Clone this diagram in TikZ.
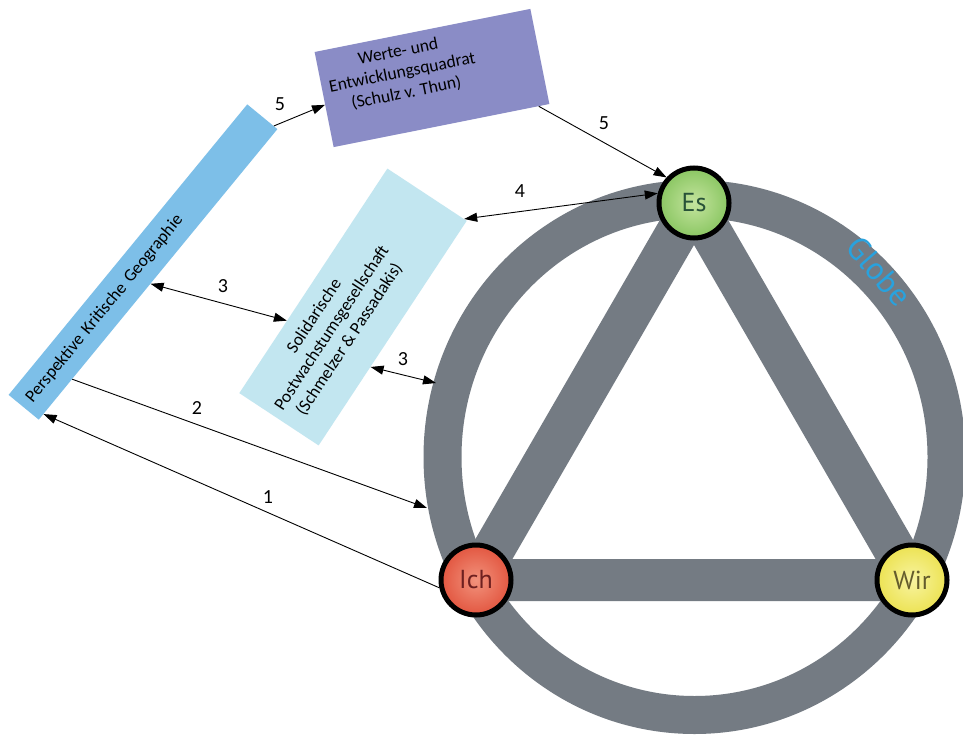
\documentclass[tikz,border=0pt]{standalone}
\usepackage{fontspec}
\setmainfont{Carlito}
\newfontfamily\nodefont{PT Sans}
\usetikzlibrary{arrows.meta,calc}
\definecolor{ringgray}{RGB}{116,123,131}
\definecolor{boxblue}{RGB}{125,191,232}
\definecolor{boxpurple}{RGB}{138,140,198}
\definecolor{boxcyan}{RGB}{194,230,240}
\definecolor{globeblue}{RGB}{40,162,222}
\begin{document}
\begin{tikzpicture}[x=1pt,y=-1pt,
  conn/.style={line width=0.9pt, draw=black},
  onehead/.style={-{Triangle[length=13pt,width=9pt]}},
  twohead/.style={{Triangle[length=13pt,width=9pt]}-{Triangle[length=13pt,width=9pt]}},
  num/.style={font=\fontsize{20}{22}\selectfont, inner sep=0pt},
  vertex/.style={circle, draw=black, line width=5pt, minimum size=70pt, inner sep=0pt,
                 font=\nodefont\fontsize{26}{28}\selectfont},
  boxtext/.style={font=\fontsize{17.5}{21}\selectfont, align=center, inner sep=0pt},
  panel/.style={inner sep=0pt}
]
\useasboundingbox (0,0) rectangle (963,735);
\clip (0,0) rectangle (963,735);
\fill[white] (0,0) rectangle (963,735);

% vertex centres
\coordinate (pes) at (694,203);
\coordinate (pich) at (476,580);
\coordinate (pwir) at (912,580);

% ring and triangle
\draw[ringgray, line width=38pt] (694.5,457) ellipse [x radius=252pt, y radius=258pt];
\draw[ringgray, line width=42pt, line join=round] (pes) -- (pich) -- (pwir) -- cycle;

\node[font=\nodefont\fontsize{32}{34}\selectfont, text=globeblue, rotate=-49, inner sep=0pt] (globe) at (879,271) {Globe};

% vertices
\node[vertex, inner color={rgb,255:red,196;green,228;blue,158}, outer color={rgb,255:red,138;green,198;blue,98}, text={rgb,255:red,40;green,82;blue,56}] (es) at (pes) {Es};
\node[vertex, inner color={rgb,255:red,242;green,146;blue,124}, outer color={rgb,255:red,226;green,86;blue,64}, text={rgb,255:red,110;green,32;blue,32}] (ich) at (pich) {Ich};
\node[vertex, inner color={rgb,255:red,248;green,244;blue,160}, outer color={rgb,255:red,236;green,226;blue,82}, text={rgb,255:red,100;green,92;blue,44}] (wir) at (pwir) {Wir};

% boxes
\node[panel, fill=boxblue, rotate=50.6, minimum height=39pt, text width=358pt, inner xsep=9pt,
      align=left, font=\fontsize{17.5}{21}\selectfont] (kg) at (143,262) {Perspektive Kritische Geographie};

\node[panel, fill=boxpurple, rotate=11.3, minimum width=220pt, minimum height=97pt] (wq) at (432,78) {};
\node[boxtext, rotate=11.3] (wqt) at (402.3,72.7) {Werte- und\\Entwicklungsquadrat\\(Schulz v. Thun)};

\node[panel, fill=boxcyan, rotate=56.6, minimum width=269pt, minimum height=95pt] (sp) at (353,307) {};
\node[boxtext, rotate=56.6] (spt) at (332,328) {Solidarische\\Postwachstumsgesellschaft\\(Schmelzer \& Passadakis)};

% ring contact points
\coordinate (r3) at (436,383);
\coordinate (r2) at (427,508);

% connectors
\draw[conn, onehead] ($(kg.east)!0.75!(kg.south east)$) -- ($(wq.west)!0.11!(wq.south west)$);
\draw[conn, onehead] ($(wq.south)!0.9!(wq.south east)$) -- (es.137);
\draw[conn, twohead] ($(sp.east)!0.93!(sp.south east)$) -- (es.165);
\draw[conn, twohead] ($(kg.south)!0.064!(kg.south west)$) -- ($(sp.north)!0.355!(sp.north west)$);
\draw[conn, twohead] ($(sp.south)!0.3!(sp.south west)$) -- (r3);
\draw[conn, onehead] ($(kg.south)!0.72!(kg.south west)$) -- (r2);
\draw[conn, onehead] (ich.192) -- ($(kg.south)!0.96!(kg.south west)$);

% connector labels
\node[num] (n5a) at (280,104) {5};
\node[num] (n5b) at (604,123) {5};
\node[num] (n4) at (520,191) {4};
\node[num] (n3a) at (223,286) {3};
\node[num] (n3b) at (403,359) {3};
\node[num] (n2) at (197,408) {2};
\node[num] (n1) at (268,497) {1};
\end{tikzpicture}
\end{document}
